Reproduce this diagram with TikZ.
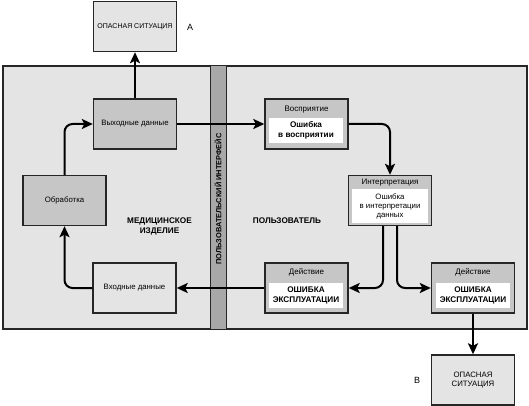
\documentclass[tikz,border=0pt]{standalone}
\usepackage{fontspec}
\setmainfont{Liberation Sans}
\usetikzlibrary{arrows.meta, positioning}
\definecolor{mdbg}{HTML}{E4E4E4}
\definecolor{mdbox}{HTML}{C6C6C6}
\definecolor{mdbar}{HTML}{A8A8A8}
\definecolor{mdline}{HTML}{262626}

\begin{document}
\begin{tikzpicture}[
  x=1pt, y=-1pt,
  every node/.style={font=\fontsize{7.8}{9}\selectfont},
  box/.style={rectangle, draw=mdline, fill=#1, line width=1.4pt, minimum width=83pt, minimum height=50pt, align=center, inner sep=0pt},
  blank/.style={rectangle, fill=white, minimum width=#1, minimum height=25pt, align=center, inner sep=0pt},
  head/.style={font=\fontsize{8}{9}\selectfont},
  strong/.style={font=\fontsize{8.2}{10}\selectfont\bfseries, align=center},
  arrow/.style={-{Stealth[length=11pt, width=10pt, inset=2.5pt]}, line width=2pt, rounded corners=8pt, draw=black},
]
\useasboundingbox (0,0) rectangle (529,406);

% regions
\draw[draw=mdline, fill=mdbg, line width=1.2pt] (3,66) rectangle (527,329);
\draw[draw=mdline, fill=mdbar, line width=1pt] (210,66) rectangle (226,329);

% device side
\node[box=mdbg, font=\fontsize{7}{8}\selectfont] (hazA) at (135,26.5) {ОПАСНАЯ СИТУАЦИЯ};
\node (labA) at (190,27) {\fontsize{9}{10}\selectfont А};
\node[box=mdbox] (output) at (135,124) {Выходные данные};
\node[box=mdbox] (proc) at (64.5,200.5) {Обработка};
\node[box=mdbg] (input) at (134.5,288) {Входные данные};
\node[strong] (device) at (159.5,226) {МЕДИЦИНСКОЕ\\ИЗДЕЛИЕ};

% interface
\node[rotate=90, font=\fontsize{7.4}{8}\selectfont\bfseries] (ui) at (218,199) {ПОЛЬЗОВАТЕЛЬСКИЙ ИНТЕРФЕЙС};

% user side
\node[strong] (user) at (287,221) {ПОЛЬЗОВАТЕЛЬ};
\node[box=mdbox] (perc) at (306.5,124) {};
\node[head] (percH) at (306.5,109.5) {Восприятие};
\node[blank=74pt, strong] (percE) at (306,130.5) {Ошибка\\в восприятии};

\node[box=mdbox] (interp) at (390,200.5) {};
\node[head] (interpH) at (390,182.5) {Интерпретация};
\node[blank=76pt, minimum height=34pt] (interpE) at (390,206) {Ошибка\\в интерпретации\\данных};

\node[box=mdbox] (act1) at (306.5,288) {};
\node[head] (act1H) at (306.5,272.5) {Действие};
\node[blank=74pt, strong] (act1E) at (306,295.5) {ОШИБКА\\ЭКСПЛУАТАЦИИ};

\node[box=mdbox] (act2) at (473,288) {};
\node[head] (act2H) at (473,272.5) {Действие};
\node[blank=74pt, strong] (act2E) at (473,295.5) {ОШИБКА\\ЭКСПЛУАТАЦИИ};

\node[box=mdbg] (hazB) at (473,380) {ОПАСНАЯ\\СИТУАЦИЯ};
\node (labB) at (417,380) {\fontsize{9}{10}\selectfont В};

% connectors
\draw[arrow] (output) -- (hazA);
\draw[arrow] (proc.north) |- (output.west);
\draw[arrow] (input.west) -| (proc.south);
\draw[arrow] (output.east) -- (output.east -| perc.west);
\draw[arrow] (perc.east) -| (interp.north);
\draw[arrow] ([xshift=-7pt]interp.south) |- (act1.east);
\draw[arrow] ([xshift=7pt]interp.south) |- (act2.west);
\draw[arrow] (act1.west) -- (input.east);
\draw[arrow] (act2) -- (hazB);

\end{tikzpicture}
\end{document}
